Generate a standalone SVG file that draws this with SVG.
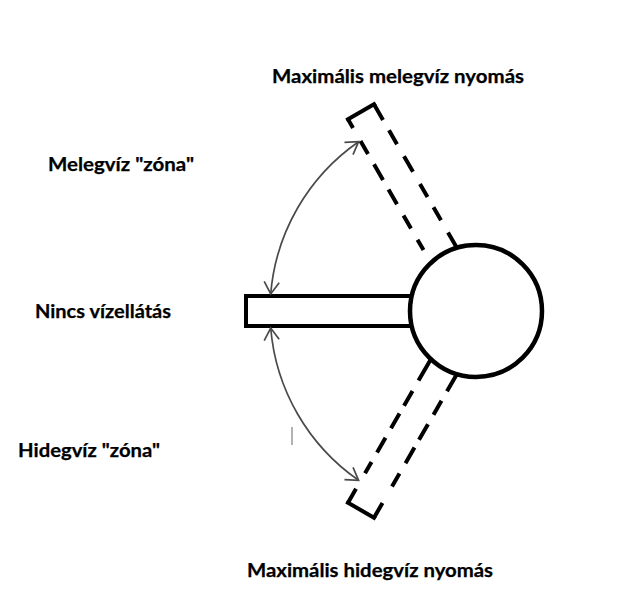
<svg xmlns="http://www.w3.org/2000/svg" width="638" height="599" viewBox="0 0 638 599">
  <defs>
    <style>
      .lbl { font-family: Lato, "Liberation Sans", sans-serif; font-weight: 700; font-size: 18px; fill: #000; stroke: #000; stroke-width: 0.25; }
      .solid { fill: none; stroke: #000; stroke-width: 4; stroke-linecap: square; }
      .dash { fill: none; stroke: #000; stroke-width: 4; stroke-linecap: butt; }
      .arc { fill: none; stroke: #4a4a4a; stroke-width: 1.7; }
    </style>
    <marker id="arr" markerUnits="userSpaceOnUse" viewBox="-14 -9 16 18" refX="0" refY="0" markerWidth="16" markerHeight="18" orient="auto-start-reverse">
      <path d="M-12,-7.5 L0,0 L-12,7.5" fill="none" stroke="#4a4a4a" stroke-width="1.7"/>
    </marker>
  </defs>
  <rect x="0" y="0" width="638" height="599" fill="#fff"/>

  <g id="hot-max-bar" transform="rotate(60 476 311)">
    <path class="solid" d="M246,296 L246,326"/>
    <path class="dash" d="M246,326 L416,326" stroke-dasharray="10 15 15 12 18 11 17 13 15 13 12 50"/>
    <path class="dash" d="M246,296 L416,296" stroke-dasharray="18 12 16 14 18 14 15 12 15 14 18 50"/>
  </g>
  <g id="cold-max-bar" transform="rotate(-60 476 311)">
    <path class="solid" d="M246,296 L246,326"/>
    <path class="dash" d="M246,296 L416,296" stroke-dasharray="16 18 13 11 17 11 17 9 17 12 25 50"/>
    <path class="dash" d="M246,326 L416,326" stroke-dasharray="17 19 15 12 18 9 18 11 16 11 20 50"/>
  </g>
  <g id="handle">
    <rect x="246" y="296" width="175" height="30" fill="#fff" stroke="#000" stroke-width="4"/>
  </g>
  <g id="hub">
    <circle cx="476" cy="311" r="66" fill="#fff" stroke="#000" stroke-width="4.5"/>
  </g>

  <g id="connectors">
    <path class="arc" d="M270.7,294 A206,206 0 0 1 358.6,141.7" marker-start="url(#arr)" marker-end="url(#arr)"/>
    <path class="arc" d="M270.7,328 A206,206 0 0 0 358.6,480.3" marker-start="url(#arr)" marker-end="url(#arr)"/>
  </g>

  <g id="marks">
    <line x1="292" y1="427" x2="292" y2="445" stroke="#999" stroke-width="1.5"/>
  </g>

  <g id="label-hot-max"><text class="lbl" x="272" y="83" textLength="252" lengthAdjust="spacingAndGlyphs">Maximális melegvíz nyomás</text></g>
  <g id="label-hot-zone"><text class="lbl" x="48" y="171" textLength="146" lengthAdjust="spacingAndGlyphs">Melegvíz "zóna"</text></g>
  <g id="label-off"><text class="lbl" x="35" y="318" textLength="136" lengthAdjust="spacingAndGlyphs">Nincs vízellátás</text></g>
  <g id="label-cold-zone"><text class="lbl" x="18" y="457" textLength="142" lengthAdjust="spacingAndGlyphs">Hidegvíz "zóna"</text></g>
  <g id="label-cold-max"><text class="lbl" x="247" y="577" textLength="246" lengthAdjust="spacingAndGlyphs">Maximális hidegvíz nyomás</text></g>
</svg>
